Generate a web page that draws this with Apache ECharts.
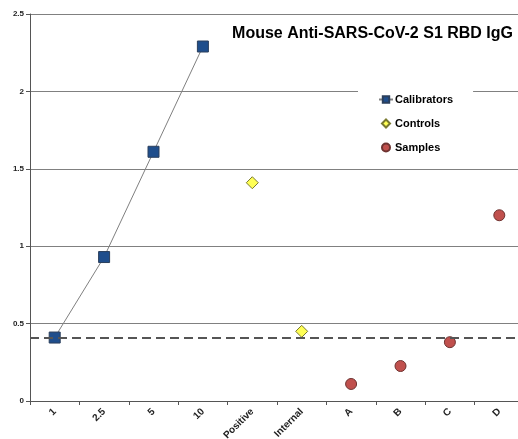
<!DOCTYPE html>
<html><head><meta charset="utf-8">
<script src="https://cdn.jsdelivr.net/npm/echarts@6/dist/echarts.min.js"></script>
<style>html,body{margin:0;padding:0;background:#fff}#c{width:518px;height:439px}</style>
</head><body><div id="c"></div>
<script>
const categories = ['1','2.5','5','10','Positive','Internal','A','B','C','D'];
const calibrators = [0.41, 0.93, 1.61, 2.29, null, null, null, null, null, null];
const controls = [null, null, null, null, 1.41, 0.45, null, null, null, null];
const samples = [null, null, null, null, null, null, 0.11, 0.226, 0.38, 1.20];
const cutoff = 0.413;
const yTicks = {min: 0, max: 2.5, interval: 0.5};
const titleText = 'Mouse Anti-SARS-CoV-2 S1 RBD IgG';

const chart = echarts.init(document.getElementById('c'));
chart.setOption({
  animation: false,
  backgroundColor: '#fff',
  textStyle: {fontFamily: 'Liberation Sans'},
  title: {
    text: titleText, right: 0, top: 21,
    textStyle: {fontSize: 16, fontWeight: 'bold', color: '#000', fontFamily: 'Liberation Sans'}
  },
  legend: {
    orient: 'vertical', left: 358, top: 88,
    padding: [6, 20, 6, 20], itemGap: 13, itemWidth: 14, itemHeight: 8,
    backgroundColor: '#fff',
    symbolKeepAspect: true,
    textStyle: {fontSize: 11, fontWeight: 'bold', color: '#000', padding: [0,0,0,-3]},
    data: [
      {name: 'Calibrators'},
      {name: 'Controls', icon: 'path://M0,-1L1,0L0,1L-1,0Z'},
      {name: 'Samples', icon: 'circle'}
    ]
  },
  grid: {left: 30, right: -6, top: 14, bottom: 38, containLabel: false, outerBoundsMode: 'none'},
  xAxis: {
    type: 'category', data: categories, boundaryGap: true,
    axisLine: {lineStyle: {color: '#555', width: 1}},
    axisTick: {show: true, length: 4, lineStyle: {color: '#555'}},
    axisLabel: {rotate: 45, fontSize: 10, fontWeight: 'bold', color: '#222', margin: 9, interval: 0}
  },
  yAxis: {
    type: 'value', min: yTicks.min, max: yTicks.max, interval: yTicks.interval,
    axisLine: {show: true, lineStyle: {color: '#555'}},
    axisTick: {show: true, length: 4, lineStyle: {color: '#555'}},
    axisLabel: {fontSize: 8, fontWeight: 'bold', color: '#222', margin: 6},
    splitLine: {lineStyle: {color: '#808080', width: 1}}
  },
  series: [
    {
      name: 'Calibrators', type: 'line', data: calibrators, connectNulls: false,
      symbol: 'rect', symbolSize: 11,
      lineStyle: {color: '#808080', width: 1},
      itemStyle: {color: '#1F4E8C', borderColor: '#2b3f5c', borderWidth: 1, opacity: 1},
      markLine: {
        silent: true, symbol: 'none', label: {show: false},
        lineStyle: {type: [9, 5], color: '#555', width: 2},
        data: [{yAxis: cutoff}]
      },
      z: 3
    },
    {
      name: 'Controls', type: 'scatter', data: controls,
      symbol: 'diamond', symbolSize: 12,
      itemStyle: {color: '#FFFF55', borderColor: '#7a7a30', borderWidth: 1, opacity: 1}, z: 4
    },
    {
      name: 'Samples', type: 'scatter', data: samples,
      symbol: 'circle', symbolSize: 11,
      itemStyle: {color: '#C0504D', borderColor: '#6e3331', borderWidth: 1, opacity: 1}, z: 4
    }
  ]
});
</script></body></html>
